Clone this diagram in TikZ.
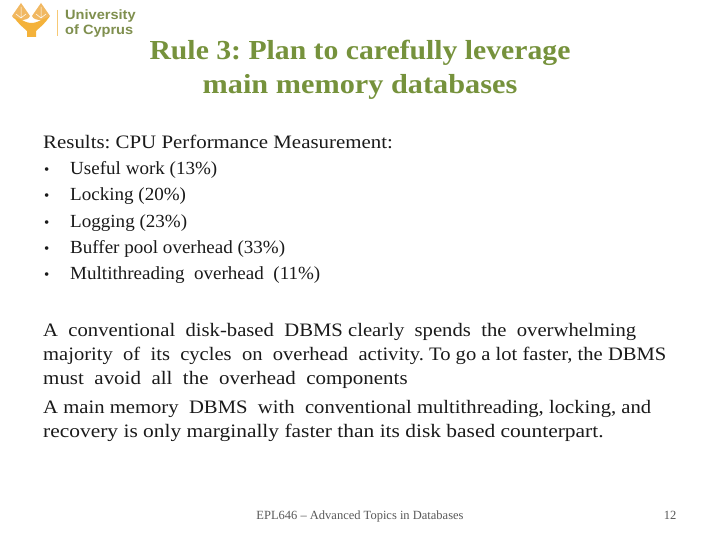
\documentclass[tikz,border=0pt]{standalone}
\usepackage{fontspec}
\usepackage{graphicx}
\setmainfont{Liberation Serif}
\newfontfamily\logofont[FakeStretch=1.08]{Liberation Sans}
\newfontfamily\bodyfont[FakeStretch=1.088]{Liberation Serif}
\newfontfamily\itemfont[FakeStretch=1.03]{Liberation Serif}
\newfontfamily\headfont[FakeStretch=1.08]{Liberation Serif}
\definecolor{titlegreen}{HTML}{76923C}
\definecolor{logoorange}{HTML}{F4B23A}
\definecolor{canopy}{HTML}{F1B862}
\definecolor{logogreen}{HTML}{7F8F4E}
\definecolor{bodyink}{HTML}{1A1A1A}
\definecolor{footink}{HTML}{595959}
\tikzset{
  bodyline/.style={anchor=base west,inner sep=0pt,text=bodyink,font=\frenchspacing\bodyfont\fontsize{19}{19}\selectfont},
  itemline/.style={anchor=base west,inner sep=0pt,text=bodyink,font=\frenchspacing\itemfont\fontsize{18.5}{19}\selectfont},
  listbullet/.style={anchor=base west,inner sep=0pt,text=bodyink,font=\fontsize{15}{15}\selectfont},
  titleline/.style={anchor=base,inner sep=0pt,text=titlegreen,font=\frenchspacing\headfont\fontsize{27.5}{27.5}\selectfont\bfseries},
  footline/.style={anchor=base,inner sep=0pt,text=footink,font=\fontsize{12.5}{12.5}\selectfont},
  logotext/.style={anchor=base west,inner sep=0pt,text=logogreen,font=\logofont\fontsize{13.5}{13.5}\selectfont\bfseries},
  leaf/.style={fill=canopy,draw=none},
  trunk/.style={fill=logoorange,draw=none}
}
\begin{document}
\begin{tikzpicture}[x=1pt,y=-1pt]
\useasboundingbox (0,0) rectangle (720,540);
\fill[white] (0,0) rectangle (720,540);
% logo
\fill[leaf] (21,3) -- (12,16) .. controls (13,19) and (17,20) .. (21,20) .. controls (25,20) and (29,19) .. (30,16) -- cycle;
\fill[leaf] (41,3) -- (32,16) .. controls (33,19) and (37,20) .. (41,20) .. controls (45,20) and (49,19) .. (50,16) -- cycle;
\fill[trunk] (14,17) .. controls (18,24) and (24,28) .. (27,31) -- (27,37) -- (36,37) -- (36,31) .. controls (39,28) and (45,24) .. (49,17) -- (41,20) .. controls (38,22) and (34,23) .. (31.5,23) .. controls (29,23) and (25,22) .. (22,20) -- cycle;
\draw[white,line width=.5pt] (21,7) -- (21,18) (16,14) -- (21,18) -- (26,14) (41,7) -- (41,18) (36,14) -- (41,18) -- (46,14);
\draw[logoorange!70!white,line width=.5pt] (57.5,10) -- (57.5,36);
\node[logotext] (uni) at (65,20) {University};
\node[logotext] (cyp) at (65,35) {of Cyprus};
% title
\node[titleline] (t1) at (360,60) {Rule 3: Plan to carefully leverage};
\node[titleline] (t2) at (360,94) {\scalebox{1.02}[1]{main memory databases}};
% body
\node[bodyline] (r) at (43,149) {\scalebox{1.01}[1]{Results: CPU Performance Measurement:}};
\foreach \n/\y/\s in {a/175/Useful work (13\%),b/201/Locking (20\%),c/227/Logging (23\%),d/253/Buffer pool overhead (33\%),e/279/Multithreading\ \ overhead\ \ (11\%)}{
  \node[listbullet] (bul\n) at (44,\y) {•};
  \node[itemline] (item\n) at (70,\y) {\s};
}
\node[bodyline] (p1) at (43,336) {A\ \ conventional\ \ disk-based\ \ DBMS clearly\ \ spends\ \ the\ \ overwhelming};
\node[bodyline] (p2) at (43,360) {\scalebox{0.995}[1]{majority\ \ of\ \ its\ \ cycles\ \ on\ \ overhead\ \ activity. To go a lot faster, the DBMS}};
\node[bodyline] (p3) at (43,384) {\scalebox{1.014}[1]{must\ \ avoid\ \ all\ \ the\ \ overhead\ \ components}};
\node[bodyline] (p4) at (43,413) {A main memory\ \ DBMS\ \ with\ \ conventional multithreading, locking, and};
\node[bodyline] (p5) at (43,437) {\scalebox{1.037}[1]{recovery is only marginally faster than its disk based counterpart.}};
% footer
\node[footline] (foot) at (360,519) {EPL646 – Advanced Topics in Databases};
\node[footline] (num) at (670,519) {12};
\end{tikzpicture}
\end{document}
